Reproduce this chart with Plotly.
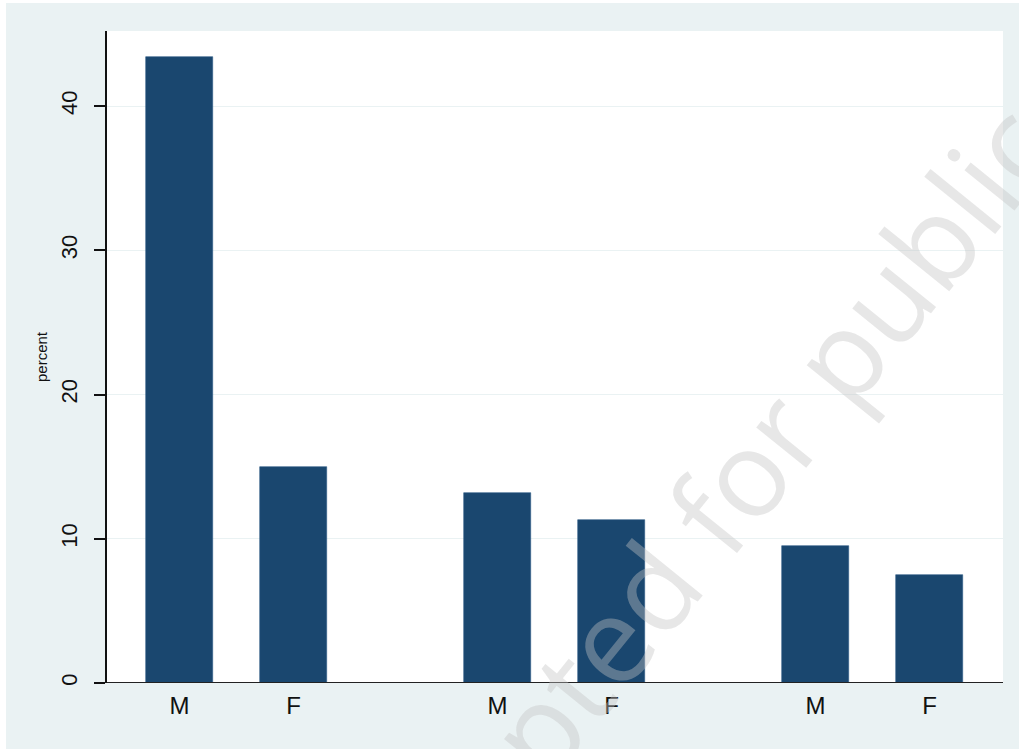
import plotly.graph_objects as go

# ---- data ----
sex_labels = ["M", "F"]
group1_percent = [43.4, 15.0]
group2_percent = [13.2, 11.3]
group3_percent = [9.5, 7.5]
y_ticks = [0, 10, 20, 30, 40]
y_title = "percent"
watermark = "Accepted for publication"

groups = [group1_percent, group2_percent, group3_percent]

# ---- layout of the grouped categorical axis ----
GROUP_GAP = 0.79  # extra space between groups (in bar slots)
xs, ys, labels = [], [], []
for g, vals in enumerate(groups):
    for i, v in enumerate(vals):
        xs.append(g * (len(sex_labels) + GROUP_GAP) + i)
        ys.append(v)
        labels.append(sex_labels[i])

BAR_COLOR = "#1a476f"
BG = "#eaf2f3"
FONT = "Liberation Sans, Arial, sans-serif"

fig = go.Figure(
    go.Bar(
        x=xs,
        y=ys,
        width=0.588,
        marker=dict(color=BAR_COLOR, line=dict(color="#2b5a85", width=0.6)),
        hoverinfo="y",
    )
)

W, H = 1013, 746
ml, mr, mt, mb = 101, 16, 28, 66
PW, PH = W - ml - mr, H - mt - mb

fig.update_layout(
    width=W,
    height=H,
    margin=dict(l=ml, r=mr, t=mt, b=mb, pad=0),
    paper_bgcolor=BG,
    plot_bgcolor="white",
    showlegend=False,
    font=dict(family=FONT, color="#111111"),
    bargap=0,
)

fig.update_xaxes(
    range=[-0.636, 7.224],
    tickvals=xs,
    ticktext=labels,
    tickfont=dict(size=24, family=FONT, color="#111111"),
    showgrid=False,
    zeroline=False,
    showline=False,
    ticks="",
    ticklabelstandoff=6,
)

fig.update_yaxes(
    range=[0, 45.2],
    tickvals=y_ticks,
    ticktext=[str(t) for t in y_ticks],
    tickangle=-90,
    tickfont=dict(size=22, family=FONT, color="#111111"),
    showline=True,
    linecolor="#111111",
    linewidth=1.5,
    ticks="outside",
    ticklen=11,
    tickwidth=1.5,
    tickcolor="#111111",
    showgrid=True,
    gridcolor=BG,
    gridwidth=1.2,
    zeroline=False,
    ticklabelstandoff=8,
    title=dict(text=y_title, font=dict(size=15, family=FONT, color="#111111"), standoff=6),
)

# x axis baseline
fig.add_shape(type="line", xref="paper", yref="y", x0=0, x1=1, y0=0, y1=0,
              line=dict(color="#222222", width=1.8), layer="above")

# watermark
fig.add_annotation(
    text=watermark,
    xref="paper", yref="paper",
    x=(771 - ml) / PW, y=1 - (426 - mt) / PH,
    xanchor="center", yanchor="middle",
    textangle=-51,
    showarrow=False,
    font=dict(family="Open Sans, sans-serif", size=120, color="rgba(195,195,195,0.4)"),
)

fig.write_html(
    "out.html",
    post_script="document.body.style.margin='3px 0 0 6px';document.body.style.overflow='hidden';",
)
